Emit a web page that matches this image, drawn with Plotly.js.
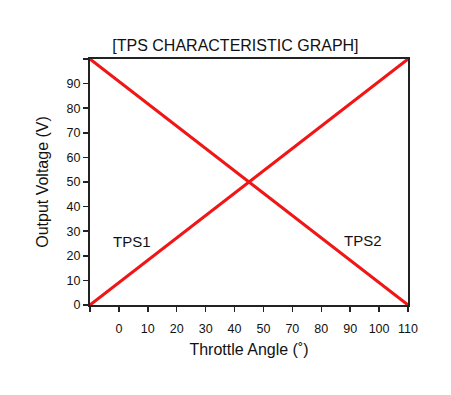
<!DOCTYPE html>
<html>
<head>
<meta charset="utf-8">
<script src="https://cdn.plot.ly/plotly-3.0.1.min.js"></script>
<style>html,body{margin:0;padding:0;background:#fff;}#chart{width:451px;height:395px;}</style>
</head>
<body>
<div id="chart"></div>
<script>
// Tick positions (index) and labels as printed on the reference (first tick unlabeled, "60" missing)
var xTickPos = [0, 1, 2, 3, 4, 5, 6, 7, 8, 9, 10, 11];
var xTickLabels = ["", "0", "10", "20", "30", "40", "50", "70", "80", "90", "100", "110"];
var yTickVals = [0, 10, 20, 30, 40, 50, 60, 70, 80, 90, 100];
var yTickLabels = ["0", "10", "20", "30", "40", "50", "60", "70", "80", "90", ""];

// Series (x in tick-index units, y in output voltage units)
var tps1X = [0, 11];
var tps1Y = [0, 100];
var tps2X = [0, 11];
var tps2Y = [100, 0];

var lineColor = "#f01616";
var font = "Liberation Sans, Arial, Helvetica, sans-serif";

var data = [
  {x: tps1X, y: tps1Y, mode: "lines", name: "TPS1", line: {color: lineColor, width: 3}, hoverinfo: "none"},
  {x: tps2X, y: tps2Y, mode: "lines", name: "TPS2", line: {color: lineColor, width: 3}, hoverinfo: "none"}
];

var layout = {
  width: 451, height: 395,
  margin: {l: 90, r: 43, t: 59, b: 90},
  paper_bgcolor: "#fff", plot_bgcolor: "#fff",
  showlegend: false,
  font: {family: font, color: "#111", size: 12.5},
  title: {text: "[TPS CHARACTERISTIC GRAPH]", font: {family: font, size: 16, color: "#111"}, xref: "container", x: 0.522, xanchor: "center", yref: "container", y: 0.885, yanchor: "middle"},
  xaxis: {
    range: [0, 11], tickmode: "array", tickvals: xTickPos, ticktext: xTickLabels,
    showgrid: false, zeroline: false, showline: true, linecolor: "#222", linewidth: 2, mirror: true,
    ticks: "outside", ticklen: 5, tickwidth: 1.5, tickcolor: "#222",
    ticklabelstandoff: 6,
    tickfont: {family: font, size: 12.5, color: "#111"},
    title: {text: "Throttle Angle (˚)", font: {family: font, size: 16, color: "#111"}, standoff: 9}
  },
  yaxis: {
    range: [0, 100], tickmode: "array", tickvals: yTickVals, ticktext: yTickLabels,
    showgrid: false, zeroline: false, showline: true, linecolor: "#222", linewidth: 2, mirror: true,
    ticks: "outside", ticklen: 5, tickwidth: 1.5, tickcolor: "#222",
    tickfont: {family: font, size: 12.5, color: "#111"},
    title: {text: "Output Voltage (V)", font: {family: font, size: 16, color: "#111"}, standoff: 14}
  },
  annotations: [
    {x: 1.44, y: 25.7, xref: "x", yref: "y", text: "TPS1", showarrow: false, font: {family: font, size: 15, color: "#111"}},
    {x: 9.44, y: 26.4, xref: "x", yref: "y", text: "TPS2", showarrow: false, font: {family: font, size: 15, color: "#111"}}
  ]
};

Plotly.newPlot("chart", data, layout, {displayModeBar: false, staticPlot: true});
</script>
</body>
</html>
